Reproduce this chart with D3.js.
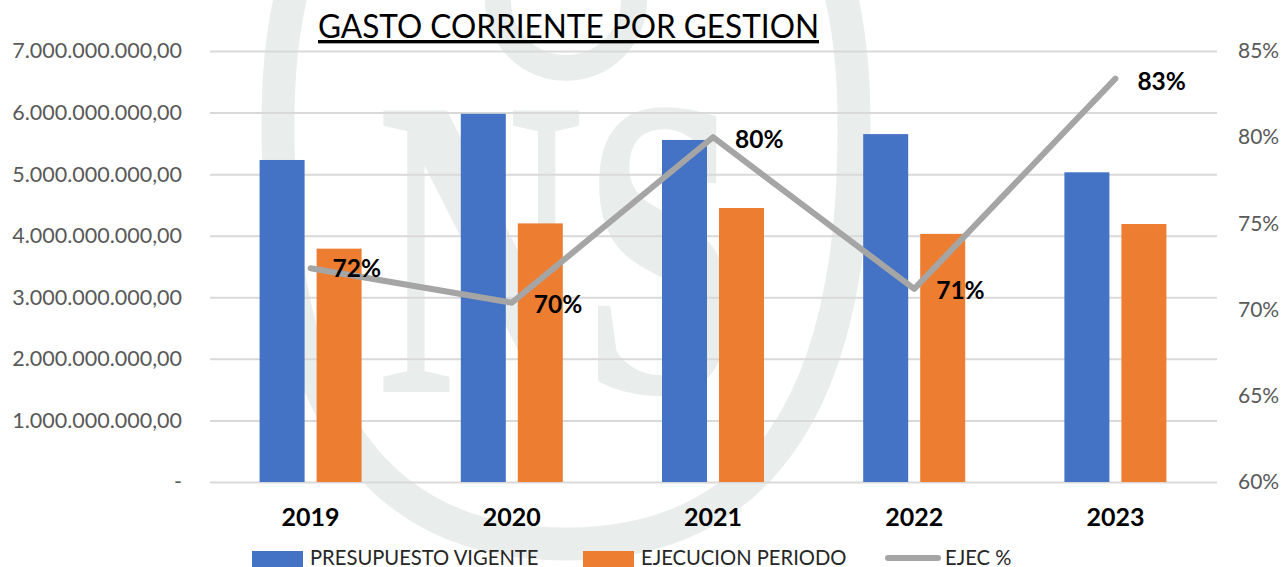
<!DOCTYPE html>
<html>
<head>
<meta charset="utf-8">
<script src="https://cdn.jsdelivr.net/npm/d3@7"></script>
<style>
  html, body { margin: 0; padding: 0; background: #fff; }
  svg { display: block; font-family: Lato, "Open Sans", sans-serif; }
</style>
</head>
<body>
<div class="chart"></div>
<script>
"use strict"
const years = ["2019", "2020", "2021", "2022", "2023"];
const presupuesto = [5230000000, 5980000000, 5555000000, 5650000000, 5030000000];
const ejecucion = [3790000000, 4200000000, 4450000000, 4030000000, 4190000000];
const ejecPct = [0.724, 0.704, 0.80, 0.712, 0.834];
const pctLabels = ["72%", "70%", "80%", "71%", "83%"];
const leftTicks = [0, 1e9, 2e9, 3e9, 4e9, 5e9, 6e9, 7e9];
const rightTicks = [0.60, 0.65, 0.70, 0.75, 0.80, 0.85];
const legendNames = ["PRESUPUESTO VIGENTE", "EJECUCION PERIODO", "EJEC %"];

const w = 1284, h = 567;
const plotLeft = 210, plotRight = 1217, plotTop = 51, plotBottom = 482;

const svg = d3.select(".chart").append("svg").attr("width", w).attr("height", h);

// watermark behind the chart
const markColor = "#e9eeec";
const mark = svg.append("g");
mark.append("path")
  .attr("d", "M292,-10 C278,50 278,100 278,130 C278,400 370,544 566,544 C762,544 854,400 854,130 C854,100 854,50 840,-10")
  .attr("fill", "none").attr("stroke", markColor).attr("stroke-width", 33);
mark.append("circle").attr("cx", 566).attr("cy", 0).attr("r", 68)
  .attr("fill", "none").attr("stroke", markColor).attr("stroke-width", 26);
mark.append("text")
  .attr("transform", "translate(378,392) scale(0.66,1)")
  .attr("font-family", "Liberation Serif").attr("font-weight", 700).attr("font-size", 430)
  .attr("fill", markColor).text("NS");

const x = d3.scaleBand().domain(years).range([plotLeft, plotRight - 1]);
const yLeft = d3.scaleLinear().domain([0, 7e9]).range([plotBottom, plotTop]);
const yRight = d3.scaleLinear().domain([0.6, 0.85]).range([plotBottom, plotTop]);

// spanish number format 7.000.000.000,00
const es = d3.formatLocale({ decimal: ",", thousands: ".", grouping: [3], currency: ["", ""] });
const fmt = es.format(",.2f");

const gridAxis = d3.axisLeft(yLeft).tickValues(leftTicks).tickSize(-(plotRight - plotLeft)).tickFormat("");
const grid = svg.append("g").attr("transform", `translate(${plotLeft},0)`).call(gridAxis);
grid.select(".domain").remove();
grid.selectAll("line").attr("stroke", "#d9d9d9").attr("stroke-width", 2);

const leftAxis = d3.axisLeft(yLeft).tickValues(leftTicks).tickSize(0).tickPadding(28)
  .tickFormat(d => d === 0 ? "-" : fmt(d));
const gl = svg.append("g").attr("transform", `translate(${plotLeft},0)`).call(leftAxis);
gl.select(".domain").remove();
gl.selectAll("text").attr("font-family", "Lato").attr("font-size", 21.5).attr("fill", "#595959");

const rightAxis = d3.axisRight(yRight).tickValues(rightTicks).tickSize(0).tickPadding(21)
  .tickFormat(d3.format(".0%"));
const gr = svg.append("g").attr("transform", `translate(${plotRight},0)`).call(rightAxis);
gr.select(".domain").remove();
gr.selectAll("text").attr("font-family", "Lato").attr("font-size", 21).attr("fill", "#595959");

const barW = 45, off = 6;
svg.selectAll("rect.pres").data(presupuesto).enter().append("rect")
  .attr("class", "pres")
  .attr("x", (d, i) => x(years[i]) + x.bandwidth() / 2 - off - barW)
  .attr("y", d => yLeft(d))
  .attr("width", barW)
  .attr("height", d => plotBottom - yLeft(d))
  .attr("fill", "#4472c4");
svg.selectAll("rect.ejec").data(ejecucion).enter().append("rect")
  .attr("class", "ejec")
  .attr("x", (d, i) => x(years[i]) + x.bandwidth() / 2 + off)
  .attr("y", d => yLeft(d))
  .attr("width", barW)
  .attr("height", d => plotBottom - yLeft(d))
  .attr("fill", "#ed7d31");

const line = d3.line()
  .x((d, i) => x(years[i]) + x.bandwidth() / 2)
  .y(d => yRight(d));
svg.append("path").datum(ejecPct)
  .attr("d", line)
  .attr("fill", "none")
  .attr("stroke", "#a5a5a5")
  .attr("stroke-width", 6)
  .attr("stroke-linecap", "round")
  .attr("stroke-linejoin", "round");

// labels sit to the right of each point
const labelDy = [9, 10, 11, 10, 11];
svg.selectAll("text.pct").data(ejecPct).enter().append("text")
  .attr("class", "pct")
  .attr("x", (d, i) => x(years[i]) + x.bandwidth() / 2 + 22)
  .attr("y", (d, i) => yRight(d) + labelDy[i])
  .attr("font-size", 24.5)
  .attr("font-weight", 700)
  .attr("fill", "#000")
  .text((d, i) => pctLabels[i]);

svg.selectAll("text.year").data(years).enter().append("text")
  .attr("class", "year")
  .attr("x", d => x(d) + x.bandwidth() / 2)
  .attr("y", 526)
  .attr("text-anchor", "middle")
  .attr("font-size", 25)
  .attr("font-weight", 700)
  .attr("fill", "#000")
  .text(d => d);

// title
svg.append("text").attr("x", 318).attr("y", 38)
  .attr("font-size", 33.5).attr("fill", "#000")
  .attr("text-decoration", "underline")
  .attr("textLength", 501).attr("lengthAdjust", "spacingAndGlyphs")
  .text("GASTO CORRIENTE POR GESTION");

// legend
const lg = svg.append("g");
lg.append("rect").attr("x", 252).attr("y", 551).attr("width", 51).attr("height", 16).attr("fill", "#4472c4");
lg.append("rect").attr("x", 583).attr("y", 551).attr("width", 51).attr("height", 16).attr("fill", "#ed7d31");
lg.append("line").attr("x1", 888).attr("x2", 938).attr("y1", 558).attr("y2", 558)
  .attr("stroke", "#a5a5a5").attr("stroke-width", 6).attr("stroke-linecap", "round");
const legendX = [310, 641, 945];
lg.selectAll("text").data(legendNames).enter().append("text")
  .attr("x", (d, i) => legendX[i])
  .attr("y", 565)
  .attr("font-size", 20.2)
  .attr("fill", "#262626")
  .text(d => d);
</script>
</body>
</html>
